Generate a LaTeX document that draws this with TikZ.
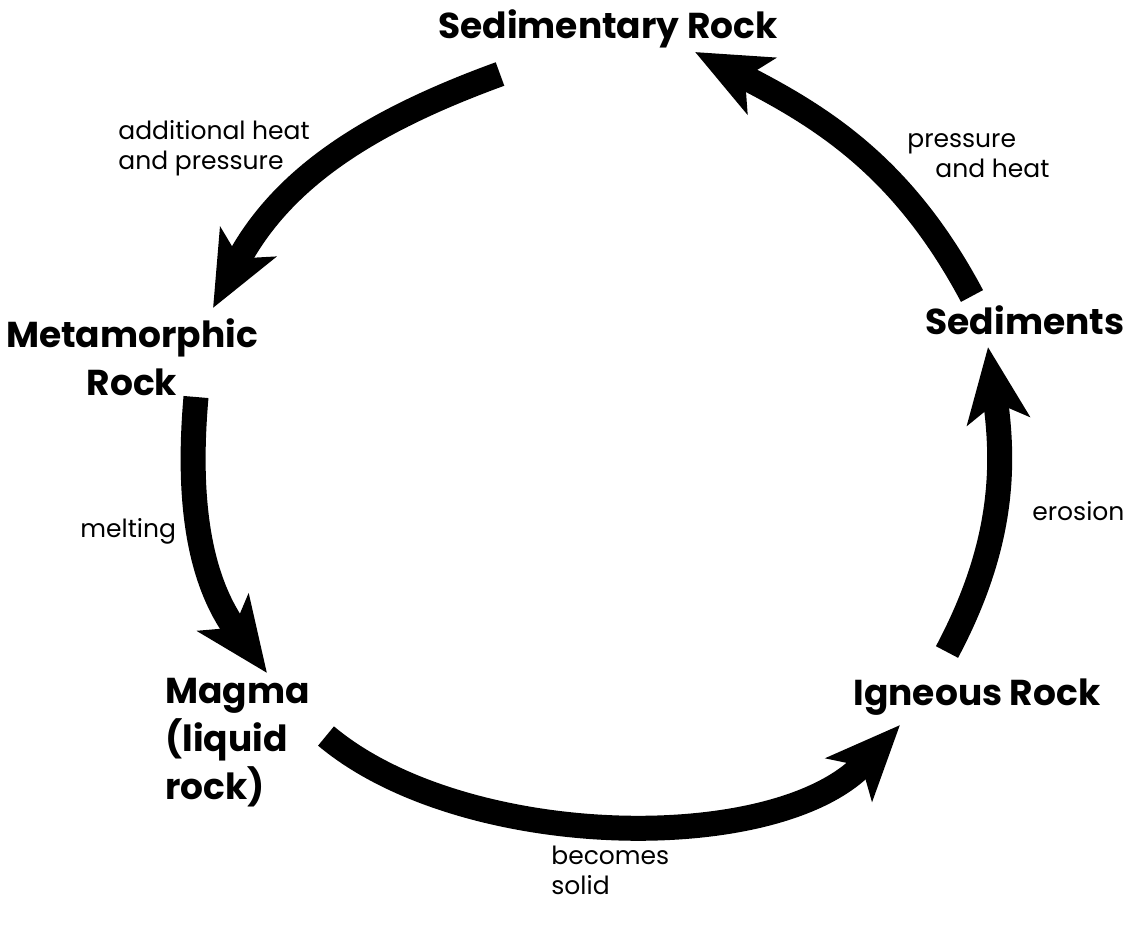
\documentclass[tikz,border=0pt]{standalone}
\usepackage{fontspec}
\setmainfont{Poppins}
\usepackage{tikz}
\usetikzlibrary{arrows.meta}
\tikzset{
  cyclearrow/.style={line width=12.5pt, -{Stealth[length=37pt, width=31pt, inset=9pt]}},
  rockname/.style={inner sep=0pt, font=\fontsize{18}{24}\selectfont\bfseries},
  steplabel/.style={inner sep=0pt, font=\fontsize{12.5}{15}\selectfont}
}
\begin{document}
\begin{tikzpicture}[x=0.5pt, y=0.5pt]
    \useasboundingbox (0,0) rectangle (1137,-934);

    % Rock names round the cycle
    \node[rockname, anchor=base] (sedrock) at (608,-38) {Sedimentary Rock};
    \node[rockname, align=center] (metarock) at (132,-357) {Metamorphic\\Rock};
    \node[rockname, align=left, anchor=north west] (magma) at (165,-678) {Magma\\(liquid\\rock)};
    \node[rockname, anchor=base] (igrock) at (977,-705) {Igneous Rock};
    \node[rockname, anchor=base] (sediments) at (1025,-334) {Sediments};

    % Process labels beside the arrows
    \node[steplabel, align=left, anchor=north west] (lblheat) at (118,-120) {additional heat\\and pressure};
    \node[steplabel, anchor=base west] (lblmelt) at (80,-537) {melting};
    \node[steplabel, align=left, anchor=north west] (lblsolid) at (551,-846) {becomes\\solid};
    \node[steplabel, anchor=base west] (lblerosion) at (1032,-520) {erosion};
    \node[steplabel, align=left, anchor=north west] (lblpress) at (907,-133) {pressure\\\hspace*{14pt}and heat};

    % Ends of the arcs
    \coordinate (a1s) at (500,-74);  \coordinate (a1e) at (213,-308);
    \coordinate (a2s) at (196,-397); \coordinate (a2e) at (267,-673);
    \coordinate (a3s) at (326,-736); \coordinate (a3e) at (900,-725);
    \coordinate (a4s) at (947,-652); \coordinate (a4e) at (988,-347);
    \coordinate (a5s) at (972,-296); \coordinate (a5e) at (695,-52);

    % Thick arrows going round the cycle
    \draw[cyclearrow] (a1s) to[out=200, in=62] (a1e);
    \draw[cyclearrow] (a2s) to[out=265, in=126] (a2e);
    \draw[cyclearrow] (a3s) to[out=-40, in=-133, looseness=0.8] (a3e);
    \draw[cyclearrow] (a4s) to[out=62, in=-82] (a4e);
    \draw[cyclearrow] (a5s) to[out=118, in=-27] (a5e);
\end{tikzpicture}
\end{document}
